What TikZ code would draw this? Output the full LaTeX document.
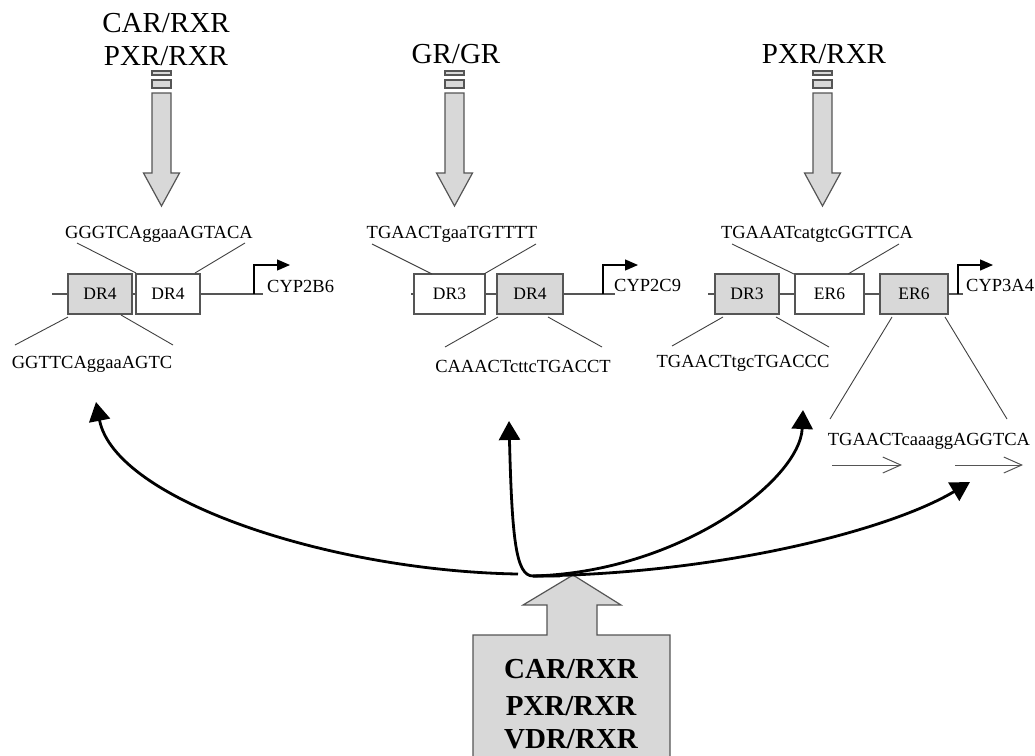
\documentclass[tikz,border=0pt]{standalone}
\usepackage{fontspec}
\setmainfont{Liberation Serif}
\usetikzlibrary{arrows.meta}
\definecolor{fillgray}{RGB}{216,216,216}
\definecolor{edgegray}{RGB}{85,85,85}
\tikzset{
  downblock/.pic={
    \draw[blockarrow] (-9.5,71) rectangle (9.5,75);
    \draw[blockarrow] (-9.5,80) rectangle (9.5,88);
    \draw[blockarrow] (-9.5,93) -- (-9.5,173) -- (-18,173) -- (0,206) -- (18,173) -- (9.5,173) -- (9.5,93) -- cycle;
  }
}
\begin{document}
\begin{tikzpicture}[x=1pt,y=-1pt,
  seq/.style={font=\fontsize{18.5}{22}\selectfont, inner sep=0pt, anchor=base},
  big/.style={font=\fontsize{29}{34}\selectfont, inner sep=0pt, anchor=base},
  boldbig/.style={font=\fontsize{29}{34}\selectfont\bfseries, inner sep=0pt, anchor=base},
  site/.style={draw=edgegray, line width=1.3pt, minimum height=40pt, inner sep=0pt, font=\fontsize{17.5}{20}\selectfont},
  graysite/.style={site, fill=fillgray},
  whitesite/.style={site, fill=white},
  dna/.style={draw=edgegray, line width=1.3pt},
  pointer/.style={draw=black!75, line width=0.9pt},
  promoter/.style={draw=black, line width=1.3pt, -{Triangle[length=13pt,width=11pt]}},
  bigarrow/.style={draw=black, line width=2.8pt, -{Triangle[length=19pt,width=21pt]}},
  dirarrow/.style={draw=edgegray, line width=1pt, -{Straight Barb[length=18pt,width=16pt]}},
  blockarrow/.style={draw=edgegray, line width=1.2pt, fill=fillgray},
]
\useasboundingbox (0,0) rectangle (1035,755);

% top labels
\node[big] (l1a) at (166,32) {CAR/RXR};
\node[big] (l1b) at (166,65) {PXR/RXR};
\node[big] (l2) at (456,63) {GR/GR};
\node[big] (l3) at (824,63) {PXR/RXR};

% down block arrows
\pic at (161.5,0) {downblock};
\pic at (454.5,0) {downblock};
\pic at (822.5,0) {downblock};

% ---------- CYP2B6 ----------
\node[graysite, minimum width=64pt] (b1a) at (100,294) {DR4};
\node[whitesite, minimum width=64pt] (b1b) at (168,294) {DR4};
\coordinate (s1) at (52,294);
\coordinate (e1) at (263,294);
\coordinate (p1) at (254,294);
\draw[dna] (s1) -- (b1a.west);
\draw[dna] (b1a.east) -- (b1b.west);
\draw[dna] (b1b.east) -- (e1);
\draw[promoter] (p1) -- (254,265) -- (290,265);
\node[seq, anchor=base west] (g1) at (267,292) {CYP2B6};
\node[seq] (t1) at (159,238) {GGGTCAggaaAGTACA};
\node[seq] (u1) at (92,368) {GGTTCAggaaAGTC};
\draw[pointer] (77,243) -- (136,273);
\draw[pointer] (245,243) -- (195,273);
\draw[pointer] (68,317) -- (15,345);
\draw[pointer] (121,315) -- (173,345);

% ---------- CYP2C9 ----------
\node[whitesite, minimum width=71pt] (b2a) at (449.5,294) {DR3};
\node[graysite, minimum width=66pt] (b2b) at (530,294) {DR4};
\coordinate (s2) at (411,294);
\coordinate (e2) at (615,294);
\coordinate (p2) at (603,294);
\draw[dna] (s2) -- (b2a.west);
\draw[dna] (b2a.east) -- (b2b.west);
\draw[dna] (b2b.east) -- (e2);
\draw[promoter] (p2) -- (603,265) -- (638,265);
\node[seq, anchor=base west] (g2) at (614,291) {CYP2C9};
\node[seq] (t2) at (452,238) {TGAACTgaaTGTTTT};
\node[seq] (u2) at (523,372) {CAAACTcttcTGACCT};
\draw[pointer] (372,244) -- (432,274);
\draw[pointer] (536,244) -- (484,274);
\draw[pointer] (498,317) -- (445,347);
\draw[pointer] (548,317) -- (602,347);

% ---------- CYP3A4 ----------
\node[graysite, minimum width=64pt] (b3a) at (747,294) {DR3};
\node[whitesite, minimum width=69pt] (b3b) at (829.5,294) {ER6};
\node[graysite, minimum width=68pt] (b3c) at (914,294) {ER6};
\coordinate (s3) at (708,294);
\coordinate (e3) at (963,294);
\coordinate (p3) at (958,294);
\draw[dna] (s3) -- (b3a.west);
\draw[dna] (b3a.east) -- (b3b.west);
\draw[dna] (b3b.east) -- (b3c.west);
\draw[dna] (b3c.east) -- (e3);
\draw[promoter] (p3) -- (958,265) -- (993,265);
\node[seq, anchor=base west] (g3) at (966,291) {CYP3A4};
\node[seq] (t3) at (817,238) {TGAAATcatgtcGGTTCA};
\node[seq] (u3) at (743,367) {TGAACTtgcTGACCC};
\node[seq] (v3) at (929,445) {TGAACTcaaaggAGGTCA};
\draw[pointer] (732,244) -- (794,274);
\draw[pointer] (899,244) -- (848,274);
\draw[pointer] (723,317) -- (672,346);
\draw[pointer] (776,317) -- (829,347);
\draw[pointer] (892,317) -- (830,419);
\draw[pointer] (945,317) -- (1007,419);
\coordinate (h1a) at (832,465);
\coordinate (h1b) at (902,465);
\coordinate (h2a) at (955,465);
\coordinate (h2b) at (1023,465);
\draw[dirarrow] (h1a) -- (h1b);
\draw[dirarrow] (h2a) -- (h2b);

% ---------- bottom block arrow ----------
\draw[blockarrow] (473,762) -- (473,635) -- (547,635) -- (547,605) -- (523,605) -- (573,575)
  -- (621,605) -- (597,605) -- (597,635) -- (670,635) -- (670,762);
\node[boldbig] (n1) at (571,678) {CAR/RXR};
\node[boldbig] (n2) at (571,715) {PXR/RXR};
\node[boldbig] (n3) at (571,748) {VDR/RXR};

% ---------- curved arrows ----------
\coordinate (jl) at (518,574);
\coordinate (j) at (533,576);
\coordinate (jr) at (560,576);
\coordinate (a1) at (96,402);
\coordinate (a2) at (509,421);
\coordinate (a3) at (803,410);
\coordinate (a4) at (970,482);
\draw[bigarrow] (jl) .. controls (330,571) and (115,500) .. (a1);
\draw[bigarrow] (jr) -- (j) .. controls (516,576) and (512,540) .. (a2);
\draw[bigarrow] (j) .. controls (680,572) and (800,480) .. (a3);
\draw[bigarrow] (j) .. controls (720,574) and (890,530) .. (a4);
\end{tikzpicture}
\end{document}
